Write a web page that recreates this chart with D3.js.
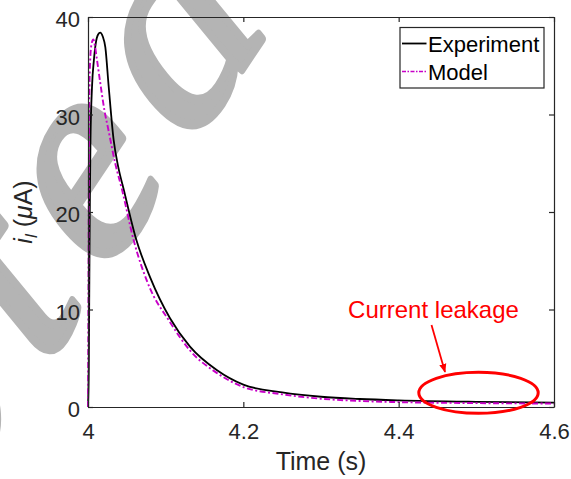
<!DOCTYPE html>
<html>
<head>
<meta charset="utf-8">
<script src="https://cdn.jsdelivr.net/npm/d3@7"></script>
<style>
  html, body { margin: 0; padding: 0; background: #fff; }
  svg { display: block; }
  text { font-family: "Liberation Sans", Arial, Helvetica, sans-serif; }
</style>
</head>
<body>
<svg id="chart" width="571" height="479"></svg>
<script>
// Measured leakage current after the pulse at t = 4 s
const expTime = [4.0000, 4.0010, 4.0018, 4.0025, 4.0032, 4.0052, 4.0075, 4.0100, 4.0130, 4.0158,
  4.0190, 4.0223, 4.0266, 4.0330, 4.0390, 4.0460, 4.0620, 4.0800, 4.1056,
  4.1313, 4.1657, 4.2000, 4.2500, 4.3000, 4.3500, 4.4000, 4.5000, 4.6000];
const expCurrent = [0, 4, 14, 22, 27.4, 32.9, 35.5, 37.3, 38.2, 38.4,
  38.0, 36.9, 32.9, 27.4, 24.6, 22.3, 17.2, 13.3, 9.1,
  6.2, 3.8, 2.3, 1.5, 1.05, 0.82, 0.68, 0.53, 0.45];

// Simulated current from the model
const modelTime = [4.0000, 4.0004, 4.0009, 4.0015, 4.0025, 4.0045, 4.0069, 4.0090, 4.0116, 4.0155,
  4.0210, 4.0266, 4.0350, 4.0438, 4.0588, 4.0770, 4.1056, 4.1313, 4.1657,
  4.2000, 4.2500, 4.3000, 4.3500, 4.4000, 4.5000, 4.6000];
const modelCurrent = [0, 8, 20, 30, 35, 37.2, 37.7, 37.0, 35.6, 33.4,
  30.5, 28.3, 25.0, 22.3, 17.1, 12.7, 8.7, 5.8, 3.5,
  2.05, 1.3, 0.85, 0.62, 0.5, 0.4, 0.35];

const xTicks = [4, 4.2, 4.4, 4.6];
const yTicks = [0, 10, 20, 30, 40];
const seriesNames = ["Experiment", "Model"];
const annotationText = "Current leakage";
const watermarkText = "Accepted";

const svg = d3.select("#chart");
const margin = { left: 88, top: 17, right: 571 - 554, bottom: 479 - 407 };
const W = 571 - margin.left - margin.right;
const H = 479 - margin.top - margin.bottom;
const axisColor = "#262626";
const modelColor = "#c800c8";

// Watermark sits underneath everything else
svg.append("text")
  .attr("transform", "translate(281,11) scale(1,1.35) rotate(-48)")
  .attr("text-anchor", "end")
  .style("font-family", "'Liberation Serif', 'Times New Roman', serif")
  .style("font-size", "236px")
  .style("letter-spacing", "25px")
  .attr("fill", "#b4b4b4")
  .attr("stroke", "#b4b4b4").attr("stroke-width", 7).attr("stroke-linejoin", "round")
  .text(watermarkText);

const g = svg.append("g").attr("transform", `translate(${margin.left},${margin.top})`);

const x = d3.scaleLinear().domain([4, 4.6]).range([0, W]);
const y = d3.scaleLinear().domain([0, 40]).range([H, 0]);

// Curves
const line = d3.line().x(d => x(d[0])).y(d => y(d[1])).curve(d3.curveMonotoneX);
const expData = expTime.map((t, i) => [t, expCurrent[i]]);
const modelData = modelTime.map((t, i) => [t, modelCurrent[i]]);

g.append("path").datum(expData)
  .attr("d", line).attr("fill", "none")
  .attr("stroke", "#000").attr("stroke-width", 1.8);

g.append("path").datum(modelData)
  .attr("d", line).attr("fill", "none")
  .attr("stroke", modelColor).attr("stroke-width", 1.9)
  .attr("stroke-dasharray", "6,2.5,2,2.5");

// Axes with inward ticks on all four sides
const tickLen = 5;
const fmt = d => d3.format("")(d);
const xb = g.append("g").attr("transform", `translate(0,${H})`)
  .call(d3.axisBottom(x).tickValues(xTicks).tickSizeInner(-tickLen).tickSizeOuter(0).tickPadding(16).tickFormat(fmt));
const xt = g.append("g")
  .call(d3.axisTop(x).tickValues(xTicks).tickSizeInner(-tickLen).tickSizeOuter(0).tickFormat(""));
const yl = g.append("g")
  .call(d3.axisLeft(y).tickValues(yTicks).tickSizeInner(-tickLen).tickSizeOuter(0).tickPadding(8).tickFormat(fmt));
const yr = g.append("g").attr("transform", `translate(${W},0)`)
  .call(d3.axisRight(y).tickValues(yTicks).tickSizeInner(-tickLen).tickSizeOuter(0).tickFormat(""));

[xb, xt, yl, yr].forEach(a => {
  a.select(".domain").attr("stroke", axisColor).attr("stroke-width", 1.2);
  a.selectAll(".tick line").attr("stroke", axisColor).attr("stroke-width", 1.2);
  a.selectAll(".tick text").attr("fill", axisColor)
    .style("font-size", "22px")
    .style("font-family", "'Liberation Sans', Arial, sans-serif");
});
yl.selectAll(".tick text").attr("dy", "0.45em");

// Axis labels
svg.append("text")
  .attr("x", margin.left + W / 2).attr("y", 470)
  .attr("text-anchor", "middle")
  .attr("fill", axisColor).style("font-size", "25px")
  .text("Time (s)");

const ylab = svg.append("text")
  .attr("transform", `translate(32,${margin.top + H / 2}) rotate(-90)`)
  .attr("text-anchor", "middle")
  .attr("fill", axisColor).style("font-size", "25px");
ylab.append("tspan").style("font-style", "italic").text("i");
ylab.append("tspan").style("font-style", "italic").style("font-size", "17px").attr("dy", 5).text("l");
ylab.append("tspan").attr("dy", -5).text("\u00a0(");
ylab.append("tspan").style("font-style", "italic").text("\u03bc");
ylab.append("tspan").text("A)");

// Legend
const lg = svg.append("g");
lg.append("rect")
  .attr("x", 400).attr("y", 27.5).attr("width", 144).attr("height", 60.5)
  .attr("fill", "#fff").attr("stroke", axisColor).attr("stroke-width", 1.2);
const legendItems = [
  { name: seriesNames[0], color: "#000", dash: null, yy: 43.5 },
  { name: seriesNames[1], color: modelColor, dash: "4,1.5,1.5,1.5", yy: 71.5 }
];
legendItems.forEach(it => {
  lg.append("line")
    .attr("x1", 402).attr("x2", 426.5).attr("y1", it.yy).attr("y2", it.yy)
    .attr("stroke", it.color).attr("stroke-width", it.dash ? 1.6 : 1.8)
    .attr("stroke-dasharray", it.dash);
  lg.append("text")
    .attr("x", 428).attr("y", it.yy + 8.5)
    .attr("fill", "#000").style("font-size", "22px")
    .text(it.name);
});

// Annotation: leakage label, arrow and ellipse
const red = "#ff0000";
svg.append("defs").append("marker")
  .attr("id", "arrowhead").attr("viewBox", "0 0 10 10")
  .attr("refX", 9).attr("refY", 5)
  .attr("markerWidth", 5).attr("markerHeight", 5)
  .attr("orient", "auto")
  .append("path").attr("d", "M0,1 L10,5 L0,9 Z").attr("fill", red);

svg.append("text")
  .attr("x", 433.5).attr("y", 318)
  .attr("text-anchor", "middle")
  .attr("fill", red).style("font-size", "24px")
  .text(annotationText);

svg.append("line")
  .attr("x1", 431.5).attr("y1", 325).attr("x2", 445).attr("y2", 372)
  .attr("stroke", red).attr("stroke-width", 1.8)
  .attr("marker-end", "url(#arrowhead)");

svg.append("ellipse")
  .attr("cx", 478.5).attr("cy", 392.8)
  .attr("rx", 59.7).attr("ry", 20.5)
  .attr("fill", "none").attr("stroke", red).attr("stroke-width", 3);
</script>
</body>
</html>
